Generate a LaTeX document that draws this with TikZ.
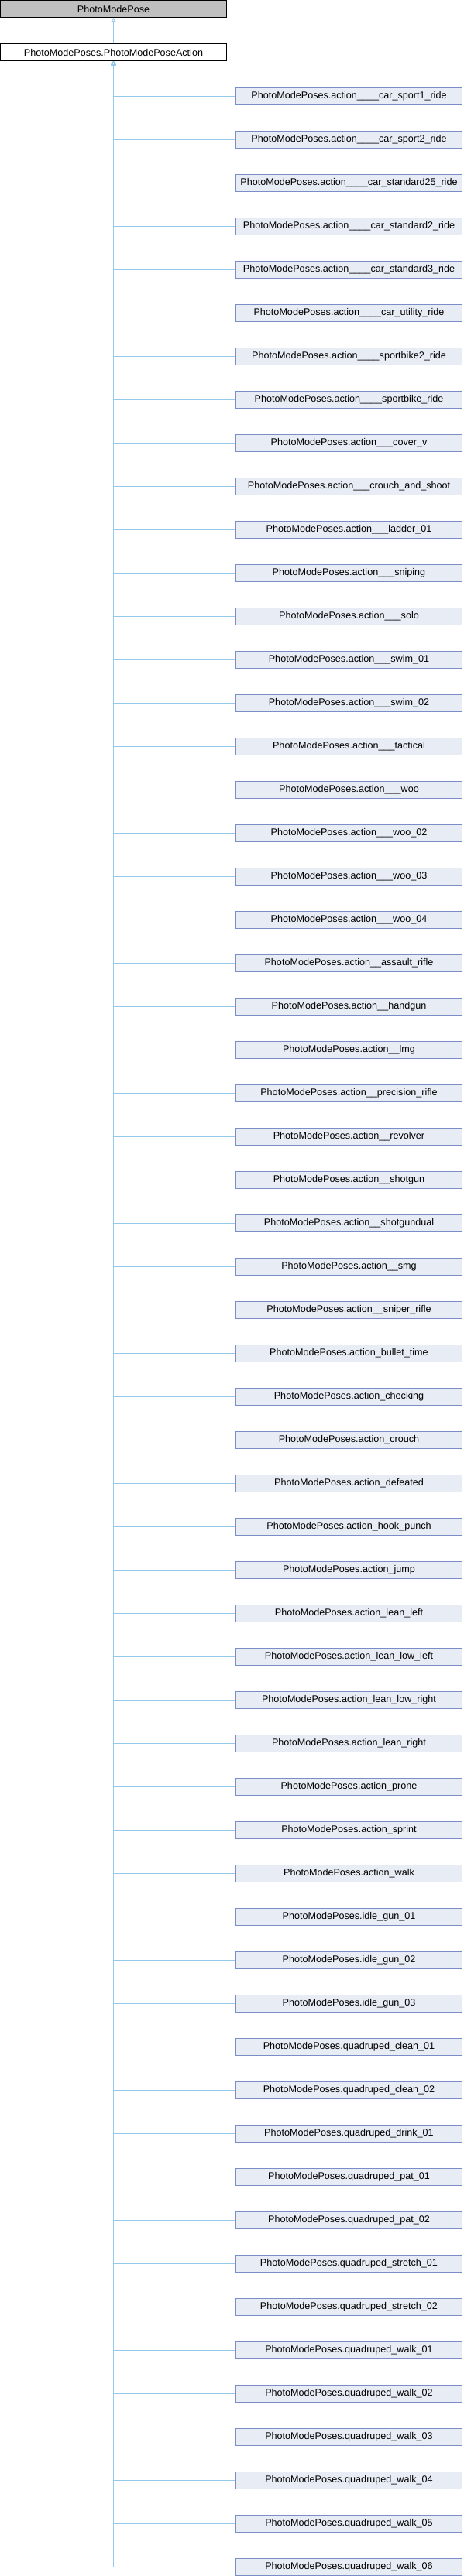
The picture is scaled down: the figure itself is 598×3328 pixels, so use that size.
\documentclass[tikz,border=0pt]{standalone}
\usepackage{fontspec}
\setmainfont{Liberation Sans}
\usetikzlibrary{arrows.meta}
\definecolor{edgeblue}{RGB}{148,201,236}
\definecolor{kidfill}{RGB}{232,236,245}
\definecolor{kiddraw}{RGB}{122,141,199}
\definecolor{basefill}{RGB}{191,191,191}
\tikzset{
  box/.style={rectangle, draw, line width=1pt, minimum width=292pt, minimum height=22pt,
    inner sep=0pt, font=\fontsize{12.6}{15}\selectfont},
  basebox/.style={box, draw=black, fill=basefill},
  parentbox/.style={box, draw=black, fill=white},
  kidbox/.style={box, draw=kiddraw, fill=kidfill},
  link/.style={draw=edgeblue, line width=1pt, -{Triangle[open,length=5pt,width=6pt]}}
}
\begin{document}
\begin{tikzpicture}[x=1pt,y=-1pt]
\useasboundingbox (0,0) rectangle (598,3328);
\node[basebox] (pose) at (146.5,11.5) {PhotoModePose};
\node[parentbox] (act) at (146.5,67.5) {PhotoModePoses.PhotoModePoseAction};
\draw[link] (act.north) -- (pose.south);
\foreach \n [count=\i from 0] in {
action\_\_\_\_car\_sport1\_ride,
action\_\_\_\_car\_sport2\_ride,
action\_\_\_\_car\_standard25\_ride,
action\_\_\_\_car\_standard2\_ride,
action\_\_\_\_car\_standard3\_ride,
action\_\_\_\_car\_utility\_ride,
action\_\_\_\_sportbike2\_ride,
action\_\_\_\_sportbike\_ride,
action\_\_\_cover\_v,
action\_\_\_crouch\_and\_shoot,
action\_\_\_ladder\_01,
action\_\_\_sniping,
action\_\_\_solo,
action\_\_\_swim\_01,
action\_\_\_swim\_02,
action\_\_\_tactical,
action\_\_\_woo,
action\_\_\_woo\_02,
action\_\_\_woo\_03,
action\_\_\_woo\_04,
action\_\_assault\_rifle,
action\_\_handgun,
action\_\_lmg,
action\_\_precision\_rifle,
action\_\_revolver,
action\_\_shotgun,
action\_\_shotgundual,
action\_\_smg,
action\_\_sniper\_rifle,
action\_bullet\_time,
action\_checking,
action\_crouch,
action\_defeated,
action\_hook\_punch,
action\_jump,
action\_lean\_left,
action\_lean\_low\_left,
action\_lean\_low\_right,
action\_lean\_right,
action\_prone,
action\_sprint,
action\_walk,
idle\_gun\_01,
idle\_gun\_02,
idle\_gun\_03,
quadruped\_clean\_01,
quadruped\_clean\_02,
quadruped\_drink\_01,
quadruped\_pat\_01,
quadruped\_pat\_02,
quadruped\_stretch\_01,
quadruped\_stretch\_02,
quadruped\_walk\_01,
quadruped\_walk\_02,
quadruped\_walk\_03,
quadruped\_walk\_04,
quadruped\_walk\_05,
quadruped\_walk\_06}
{
  \node[kidbox] (c\i) at (450.5,124+56*\i) {PhotoModePoses.\n};
  \draw[link] (c\i.west) -| (act.south);
}
\end{tikzpicture}
\end{document}
